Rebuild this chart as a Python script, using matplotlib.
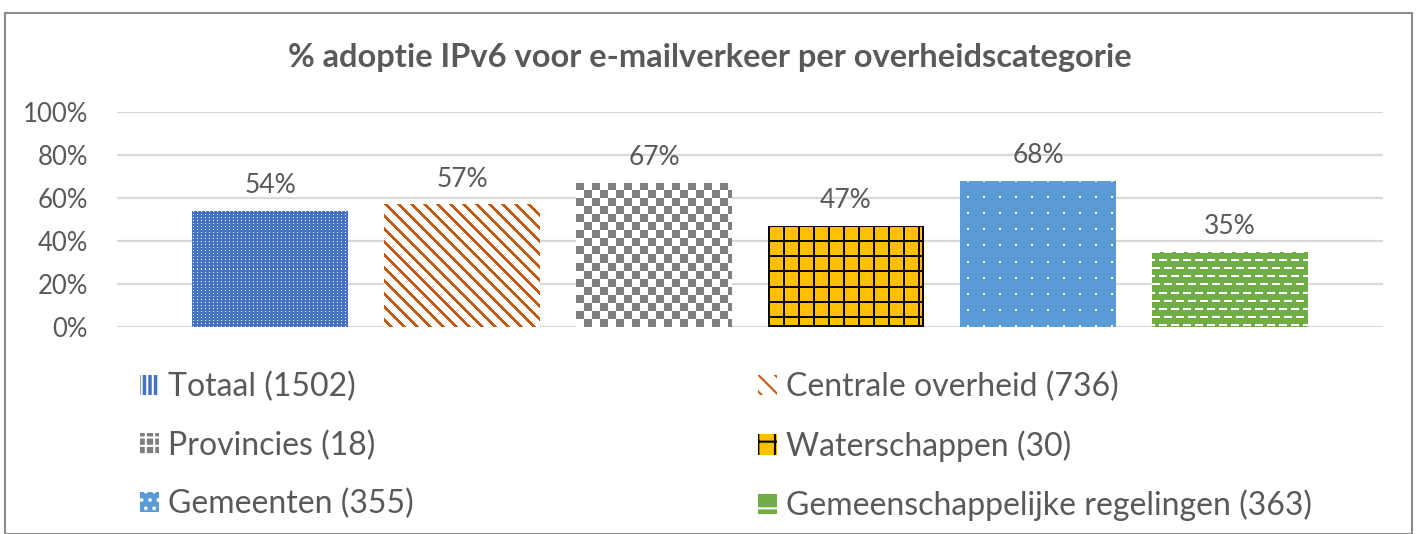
import numpy as np
import matplotlib
matplotlib.use("Agg")
import matplotlib.pyplot as plt
import matplotlib.patches as mpatches

# ---------------- data ----------------
title = "% adoptie IPv6 voor e-mailverkeer per overheidscategorie"
categories = ["Totaal (1502)", "Centrale overheid (736)", "Provincies (18)",
              "Waterschappen (30)", "Gemeenten (355)", "Gemeenschappelijke regelingen (363)"]
values = [0.54, 0.57, 0.67, 0.47, 0.68, 0.35]
yticks = [0, 0.2, 0.4, 0.6, 0.8, 1.0]
ytick_labels = ["0%", "20%", "40%", "60%", "80%", "100%"]

face_colors = ["#4472C4", "#FFFFFF", "#FFFFFF", "#FFC000", "#5B9BD5", "#70AD47"]
pattern_colors = ["#FFFFFF", "#C55A11", "#7F7F7F", "#000000", "#FFFFFF", "#FFFFFF"]
legend_faces = ["#4472C4", "#FFFFFF", "#7F7F7F", "#FFC000", "#5B9BD5", "#70AD47"]
legend_edges = ["#FFFFFF", "#C55A11", "#FFFFFF", "#000000", "#FFFFFF", "#FFFFFF"]
legend_hatches = ["|||", "\\\\", "++", "+", "..", "-"]

FONT = ["Lato", "DejaVu Sans"]
TXT = "#595959"
plt.rcParams["font.family"] = FONT
plt.rcParams["hatch.linewidth"] = 1.5

W, H, DPI = 1416, 534, 100
fig = plt.figure(figsize=(W / DPI, H / DPI), dpi=DPI)
fig.patch.set_facecolor("white")

# chart border
fig.add_artist(mpatches.Rectangle((5 / W, 0), (1412 - 5) / W, 1 - 13 / H,
                                  transform=fig.transFigure, fill=False,
                                  edgecolor="#8C8C8C", linewidth=1.5, clip_on=False))

ax = fig.add_axes([117 / W, 1 - 327 / H, (1383 - 117) / W, (327 - 112) / H])
x = np.arange(len(values))
ax.set_xlim(-0.797, 5.797)
ax.set_ylim(0, 1)
ax.set_yticks(yticks)
ax.set_yticklabels(ytick_labels, fontsize=18.5, color=TXT)
ax.set_xticks([])
ax.tick_params(axis="y", length=0, pad=21)
for s in ax.spines.values():
    s.set_visible(False)
ax.grid(axis="y", color="#D9D9D9", linewidth=1.6)
ax.set_axisbelow(True)

bars = ax.bar(x, values, width=0.81, color=face_colors, linewidth=0, zorder=2)


# ---- pattern fills (pixel tiles overlaid and clipped to each bar) ----
def tile_totaal(px, py):
    return (px % 4 == 1) & (py % 3 == 1)


def tile_centrale(px, py):
    return ((px - py) % 13) < 4


def tile_prov(px, py):
    return ((px // 8) + (py // 8)) % 2 == 0


def tile_water(px, py):
    return ((px % 15) < 2) | ((py % 15) < 2) | (px >= px.max() - 1) | (py >= py.max() - 1)


def tile_gem(px, py):
    return ((px % 16) == 7) & ((py % 16) < 2) | ((px % 16) == 8) & ((py % 16) < 2)


def tile_gr(px, py):
    return ((py % 8) < 2) & (((px + 5 * ((py // 8) % 2)) % 12) < 8)


tiles = [tile_totaal, tile_centrale, tile_prov, tile_water, tile_gem, tile_gr]
fig.canvas.draw()
for bar, tf, pc in zip(bars, tiles, pattern_colors):
    x0, y0 = bar.get_x(), bar.get_y()
    x1, y1 = x0 + bar.get_width(), y0 + bar.get_height()
    (dx0, dy0), (dx1, dy1) = ax.transData.transform([(x0, y0), (x1, y1)])
    wpx, hpx = int(round(dx1 - dx0)), int(round(dy1 - dy0))
    py, px = np.mgrid[0:hpx, 0:wpx]
    mask = tf(px, py)
    rgba = np.zeros((hpx, wpx, 4))
    rgba[..., :3] = matplotlib.colors.to_rgb(pc)
    rgba[..., 3] = mask.astype(float)
    im = ax.imshow(rgba, extent=(x0, x1, y0, y1), aspect="auto",
                   interpolation="nearest", zorder=3)
    im.set_clip_path(bar)

ax.set_xlim(-0.797, 5.797)
ax.set_ylim(0, 1)

for xi, v in zip(x, values):
    ax.annotate(f"{v:.0%}", (xi, v), xytext=(0, 9), textcoords="offset points",
                ha="center", va="bottom", fontsize=19, color=TXT)

fig.text(710 / W, 1 - 57 / H, title, ha="center", va="center",
         fontsize=23.5, fontweight="bold", color=TXT)

# legend (two columns)
handles = [mpatches.Patch(facecolor=fc, edgecolor=pc, hatch=h, linewidth=0)
           for fc, pc, h in zip(legend_faces, legend_edges, legend_hatches)]
kw = dict(frameon=False, fontsize=23, labelcolor=TXT, handlelength=0.6,
          handleheight=0.6, handletextpad=0.28, labelspacing=0.87,
          loc="upper left", borderaxespad=0, borderpad=0)
leg1 = fig.legend([handles[i] for i in (0, 2, 4)], [categories[i] for i in (0, 2, 4)],
                  bbox_to_anchor=(140 / W, 1 - 372 / H), **kw)
leg2 = fig.legend([handles[i] for i in (1, 3, 5)], [categories[i] for i in (1, 3, 5)],
                  bbox_to_anchor=(758 / W, 1 - 372 / H), **kw)

fig.savefig("out.png", dpi=DPI, facecolor="white")
